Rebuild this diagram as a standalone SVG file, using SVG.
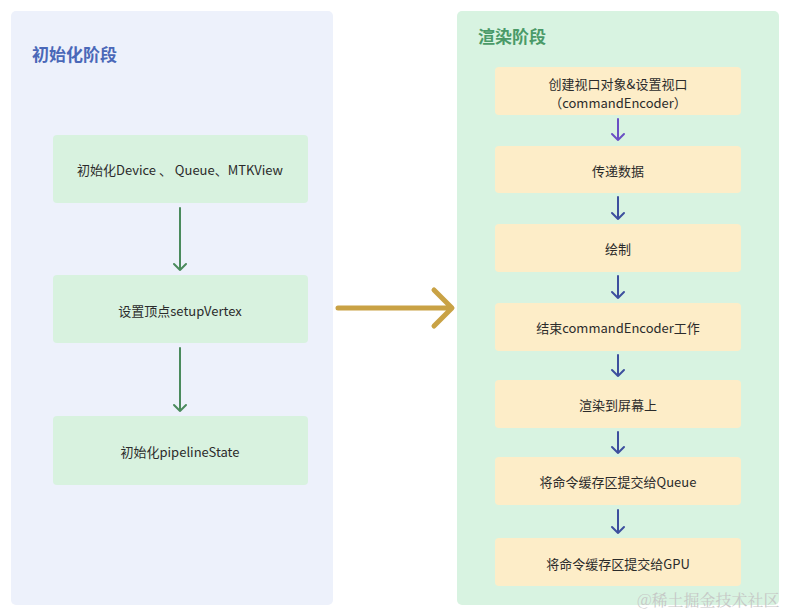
<svg xmlns="http://www.w3.org/2000/svg" width="791" height="615" viewBox="0 0 791 615">
<style>
.t{font-family:"Noto Sans CJK SC","Noto Sans",sans-serif;font-size:13px;fill:#2b2b2b;text-anchor:middle;dominant-baseline:central}
.title{font-family:"Noto Sans CJK SC","Noto Sans",sans-serif;font-size:17px;font-weight:bold}
.ln{fill:#d8f2df}
.rn{fill:#fdedc8}
.ga{stroke:#4a8a5c;stroke-width:2;fill:none;stroke-linecap:round;stroke-linejoin:round}
.ba{stroke:#3d4f9e;stroke-width:2;fill:none;stroke-linecap:round;stroke-linejoin:round}
.pa{stroke:#6a4fc4;stroke-width:2;fill:none;stroke-linecap:round;stroke-linejoin:round}
</style>
<rect width="791" height="615" fill="#ffffff"/>
<g id="panel-init">
<rect x="11" y="11" width="322" height="594" rx="5" fill="#edf1fb"/>
<text class="title" x="32" y="61" fill="#4a68b8">初始化阶段</text>
</g>
<g id="panel-render">
<rect x="457" y="11" width="322" height="594" rx="5" fill="#d8f3e1"/>
<text class="title" x="478" y="43" fill="#4a9a68">渲染阶段</text>
</g>
<g id="n1"><rect class="ln" x="53" y="135" width="255" height="68" rx="4"/><text class="t" x="180" y="169">初始化Device 、 Queue、MTKView</text></g>
<g id="n2"><rect class="ln" x="53" y="275" width="255" height="68" rx="4"/><text class="t" x="180" y="310">设置顶点setupVertex</text></g>
<g id="n3"><rect class="ln" x="53" y="416" width="255" height="69" rx="4"/><text class="t" x="180" y="451">初始化pipelineState</text></g>
<g id="r1"><rect class="rn" x="495" y="67" width="246" height="48" rx="4"/><text class="t" x="618" y="83">创建视口对象&amp;设置视口</text><text class="t" x="618" y="102">（commandEncoder）</text></g>
<g id="r2"><rect class="rn" x="495" y="146" width="246" height="47" rx="4"/><text class="t" x="618" y="170">传递数据</text></g>
<g id="r3"><rect class="rn" x="495" y="224" width="246" height="48" rx="4"/><text class="t" x="618" y="248">绘制</text></g>
<g id="r4"><rect class="rn" x="495" y="303" width="246" height="48" rx="4"/><text class="t" x="618" y="327">结束commandEncoder工作</text></g>
<g id="r5"><rect class="rn" x="495" y="380" width="246" height="48" rx="4"/><text class="t" x="618" y="404">渲染到屏幕上</text></g>
<g id="r6"><rect class="rn" x="495" y="457" width="246" height="48" rx="4"/><text class="t" x="618" y="481">将命令缓存区提交给Queue</text></g>
<g id="r7"><rect class="rn" x="495" y="538" width="246" height="48" rx="4"/><text class="t" x="618" y="563">将命令缓存区提交给GPU</text></g>
<g id="connectors">
<path class="ga" d="M180 208V270M174 264L180 270L186 264"/>
<path class="ga" d="M180 348V411M174 405L180 411L186 405"/>
<path class="pa" d="M618 119V140M612 134L618 140L624 134"/>
<path class="ba" d="M618 197V219M612 213L618 219L624 213"/>
<path class="ba" d="M618 276V298M612 292L618 298L624 292"/>
<path class="ba" d="M618 355V376M612 370L618 376L624 370"/>
<path class="ba" d="M618 432V453M612 447L618 453L624 447"/>
<path class="ba" d="M618 510V533M612 527L618 533L624 527"/>
<path d="M338 308H451M434 290L452 308L434 326" stroke="#c9a245" stroke-width="5" fill="none" stroke-linecap="round" stroke-linejoin="round"/>
</g>
<text x="637" y="606" font-family="'Noto Serif CJK SC','Noto Sans CJK SC',serif" font-size="16" fill="#c4c4c4" opacity="0.9">@稀土掘金技术社区</text>
</svg>
